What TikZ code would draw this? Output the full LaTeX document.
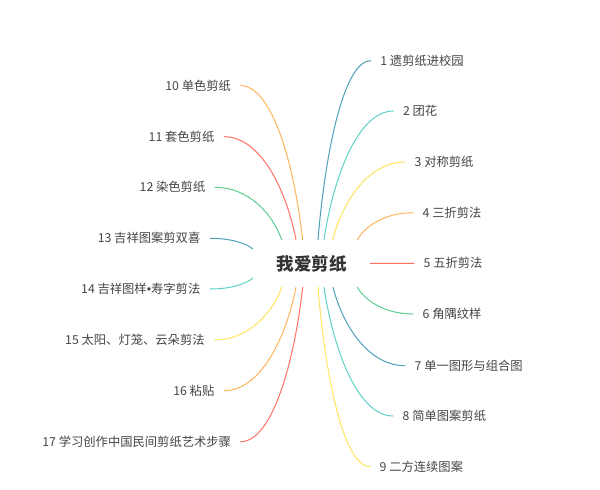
\documentclass[tikz,border=0pt]{standalone}
\usepackage{fontspec}
\setmainfont{Noto Sans CJK SC}
\newfontfamily\latinfont{Liberation Sans}
\definecolor{cblue}{HTML}{4FA0B8}
\definecolor{cturq}{HTML}{5ED1C6}
\definecolor{cyell}{HTML}{FFE45C}
\definecolor{corange}{HTML}{FFB45C}
\definecolor{cred}{HTML}{FF6F62}
\definecolor{cgreen}{HTML}{5CCD8E}
\definecolor{labelgrey}{HTML}{444444}
\definecolor{rootgrey}{HTML}{333333}
\begin{document}
\begin{tikzpicture}[x=1pt,y=-1pt,
  lbl/.style={font=\fontsize{12.3}{14}\selectfont, text=labelgrey, inner ysep=0pt, inner xsep=9.5pt},
  rl/.style={lbl, anchor=west},
  ll/.style={lbl, anchor=east},
  br/.style={line width=1pt, line cap=round},
  rootnode/.style={minimum width=117pt, minimum height=47pt, inner sep=0pt,
    font=\fontsize{17.5}{20}\selectfont\bfseries, text=rootgrey}]
\useasboundingbox (0,0) rectangle (600,490);
\node[rootnode] (root) at (311.5,263.5) {我爱剪纸};
% right children
\node[rl] (c1) at (370.7,60.7) {1 遗剪纸进校园};
\node[rl] (c2) at (393.3,111) {2 团花};
\node[rl] (c3) at (405,162) {3 对称剪纸};
\node[rl] (c4) at (413,212.7) {4 三折剪法};
\node[rl] (c5) at (414,263.3) {5 五折剪法};
\node[rl] (c6) at (413,314) {6 角隅纹样};
\node[rl] (c7) at (405,365.7) {7 单一图形与组合图};
\node[rl] (c8) at (393,416) {8 简单图案剪纸};
\node[rl] (c9) at (370,466.7) {9 二方连续图案};
% left children
\node[ll] (c10) at (240.7,85.7) {10 单色剪纸};
\node[ll] (c11) at (224,136.7) {11 套色剪纸};
\node[ll] (c12) at (215,187.3) {12 染色剪纸};
\node[ll] (c13) at (210,238.3) {13 吉祥图案剪双喜};
\node[ll] (c14) at (210,289) {14 吉祥图样{\latinfont •}寿字剪法};
\node[ll] (c15) at (214.3,340) {15 太阳、灯笼、云朵剪法};
\node[ll] (c16) at (224,390.7) {16 粘贴};
\node[ll] (c17) at (240.7,441.7) {17 学习创作中国民间剪纸艺术步骤};
% connectors right
\draw[br, cblue]   ([xshift=6.5pt]root.north) .. controls +(7.4,-89.7) and +(-26.4,0) .. (c1.west);
\draw[br, cturq]   ([xshift=12.5pt]root.north) .. controls +(9.7,-64.5) and +(-34.7,0) .. (c2.west);
\draw[br, cyell]   ([xshift=21.2pt]root.north) .. controls +(10.1,-39) and +(-36.2,0) .. (c3.west);
\draw[br, corange] ([xshift=45.8pt]root.north) .. controls +(7.8,-13.9) and +(-27.9,0) .. (c4.west);
\draw[br, cred]    (root.east) -- (c5.west);
\draw[br, cgreen]  ([xshift=45.8pt]root.south) .. controls +(7.8,13.5) and +(-27.9,0) .. (c6.west);
\draw[br, cblue]   ([xshift=21.5pt]root.south) .. controls +(10.1,39.4) and +(-36,0) .. (c7.west);
\draw[br, cturq]   ([xshift=12.5pt]root.south) .. controls +(9.7,64.5) and +(-34.5,0) .. (c8.west);
\draw[br, cyell]   ([xshift=6.5pt]root.south) .. controls +(7.3,89.9) and +(-26,0) .. (c9.west);
% connectors left
\draw[br, corange] ([xshift=-8.8pt]root.north) .. controls +(-8.7,-77.2) and +(31,0) .. (c10.east);
\draw[br, cred]    ([xshift=-15.5pt]root.north) .. controls +(-10.1,-51.7) and +(36,0) .. (c11.east);
\draw[br, cgreen]  ([xshift=-29.8pt]root.north) .. controls +(-9.3,-26.4) and +(33.4,0) .. (c12.east);
\draw[br, cblue]   ([yshift=14.5pt]root.west) .. controls +(-6.1,-5.4) and +(21.7,0) .. (c13.east);
\draw[br, cturq]   ([yshift=-14.5pt]root.west) .. controls +(-6.1,5.5) and +(21.7,0) .. (c14.east);
\draw[br, cyell]   ([xshift=-29.8pt]root.south) .. controls +(-9.4,26.5) and +(33.7,0) .. (c15.east);
\draw[br, corange] ([xshift=-15.5pt]root.south) .. controls +(-10.1,51.9) and +(36,0) .. (c16.east);
\draw[br, cred]    ([xshift=-8.8pt]root.south) .. controls +(-8.7,77.4) and +(31,0) .. (c17.east);
\end{tikzpicture}
\end{document}
